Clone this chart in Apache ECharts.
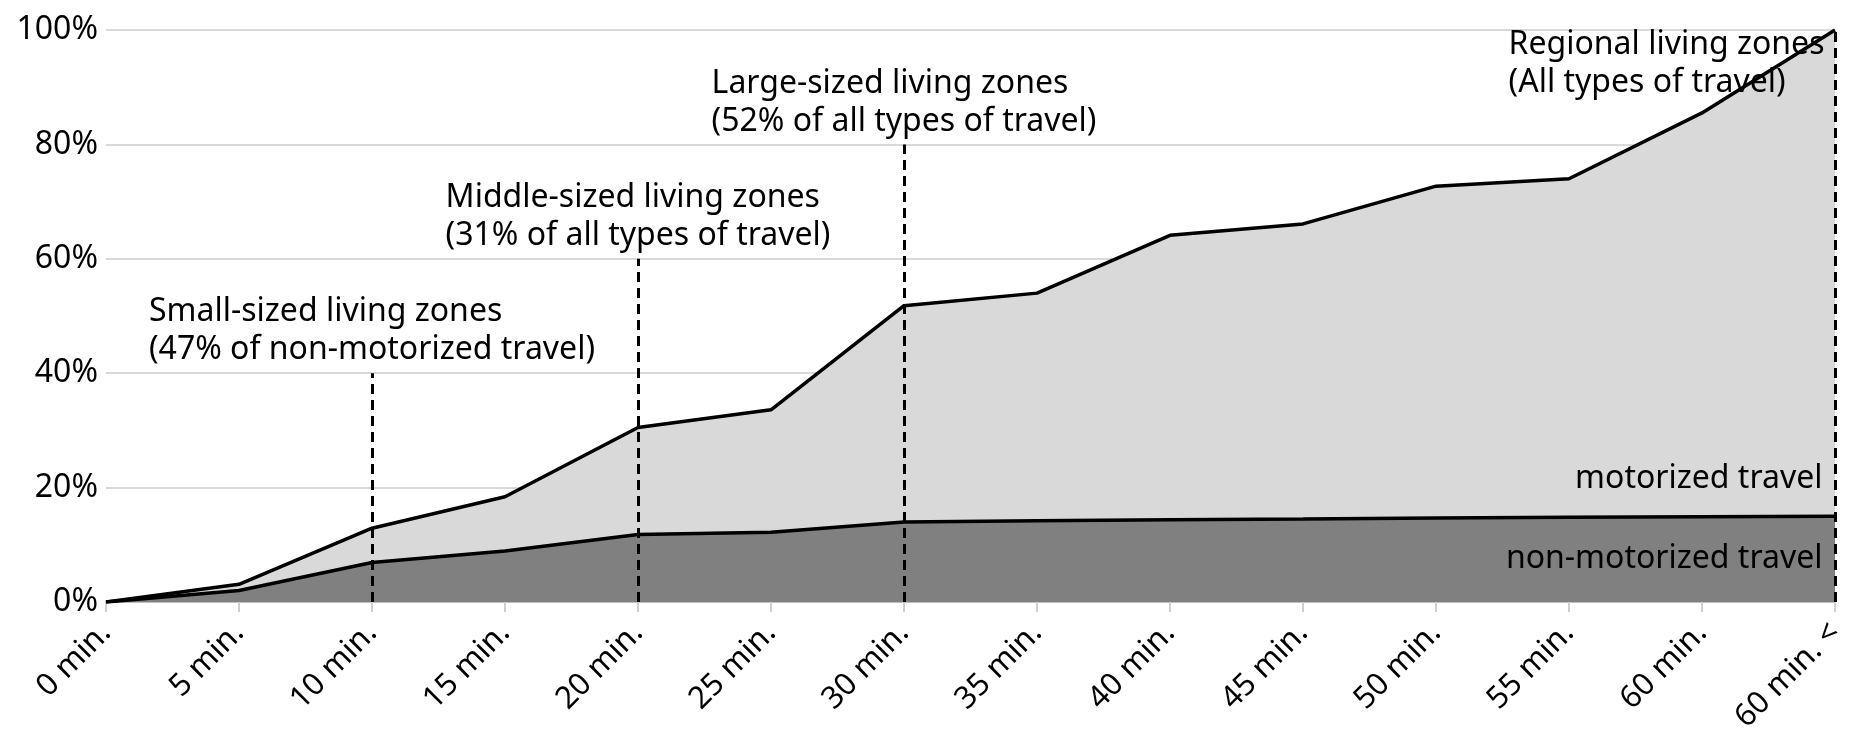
<!DOCTYPE html>
<html>
<head>
<meta charset="utf-8">
<title>Travel time and living zones</title>
<script src="https://cdn.jsdelivr.net/npm/echarts@6/dist/echarts.min.js"></script>
<style>
  html, body { margin: 0; padding: 0; background: #fff; }
  #chart { width: 1863px; height: 747px; }
</style>
</head>
<body>
<div id="chart"></div>
<script>
// categories on the x axis
const minutes = ['0 min.', '5 min.', '10 min.', '15 min.', '20 min.', '25 min.', '30 min.',
  '35 min.', '40 min.', '45 min.', '50 min.', '55 min.', '60 min.', '60 min. <'];

// cumulative share (%) - all types of travel (top line)
const allTravel = [0, 3.1, 12.9, 18.4, 30.5, 33.6, 51.8, 54.0, 64.1, 66.1, 72.7, 74.0, 85.5, 100];

// cumulative share (%) - non-motorized travel (lower line)
const nonMotorized = [0, 2.0, 6.9, 8.9, 11.8, 12.2, 14.0, 14.2, 14.4, 14.5, 14.7, 14.8, 14.9, 15.0];

// y axis ticks
const yTicks = [0, 20, 40, 60, 80, 100];

// living zone thresholds (dashed lines)
const zoneAt = ['10 min.', '20 min.', '30 min.', '60 min. <'];
const zoneTop = [40, 60, 80, 100];
const zoneText = [
  ['Small-sized living zones', '(47% of non-motorized travel)'],
  ['Middle-sized living zones', '(31% of all types of travel)'],
  ['Large-sized living zones', '(52% of all types of travel)'],
  ['Regional living zones', '(All types of travel)']
];

// area labels
const areaNames = ['motorized travel', 'non-motorized travel'];
const areaLabelAt = [21.5, 7.5];

const FONT = '"Noto Sans", "Open Sans", sans-serif';

const chart = echarts.init(document.getElementById('chart'));

const richLeft = { t: { fontSize: 32, lineHeight: 38, color: '#000', fontFamily: FONT, align: 'left' } };
const asRich = lines => lines.map(s => '{t|' + s + '}').join('\n');

// dashed lines with their captions (last caption is drawn separately)
const zoneLines = zoneAt.map((x, i) => [
  { coord: [x, 0] },
  {
    coord: [x, zoneTop[i]],
    label: i < zoneAt.length - 1
      ? { show: true, position: 'end', distance: 4, formatter: asRich(zoneText[i]), rich: richLeft }
      : { show: false }
  }
]);

const last = zoneAt.length - 1;
const notes = [
  {
    coord: [zoneAt[last], zoneTop[last]],
    label: {
      show: true, position: [-10, -4], align: 'right', verticalAlign: 'top',
      formatter: asRich(zoneText[last]), rich: richLeft
    }
  }
].concat(areaNames.map((name, i) => ({
  coord: [minutes[minutes.length - 1], areaLabelAt[i]],
  label: {
    show: true, position: [-12, 0], align: 'right', verticalAlign: 'middle',
    formatter: name, fontSize: 32, color: '#000', fontFamily: FONT
  }
})));

const option = {
  animation: false,
  grid: { left: 106, right: 28, top: 30, bottom: 145, outerBoundsMode: 'none' },
  xAxis: {
    type: 'category',
    data: minutes,
    boundaryGap: false,
    axisLine: { lineStyle: { color: '#bfbfbf', width: 2 } },
    axisTick: { show: true, length: 10, alignWithLabel: true, lineStyle: { color: '#d0d0d0', width: 2 } },
    axisLabel: { rotate: 45, margin: 26, fontSize: 31, color: '#000', fontFamily: FONT, interval: 0 },
    splitLine: { show: false }
  },
  yAxis: {
    type: 'value',
    min: yTicks[0],
    max: yTicks[yTicks.length - 1],
    interval: yTicks[1] - yTicks[0],
    axisLine: { show: false },
    axisTick: { show: false },
    axisLabel: { formatter: '{value}%', fontSize: 32, color: '#000', fontFamily: FONT, margin: 8 },
    splitLine: { lineStyle: { color: '#d9d9d9', width: 2 } }
  },
  series: [
    {
      name: 'all types of travel',
      type: 'line',
      data: allTravel,
      symbol: 'none',
      lineStyle: { color: '#000', width: 3.5 },
      areaStyle: { color: '#d9d9d9', opacity: 1 },
      z: 2
    },
    {
      name: 'non-motorized travel',
      type: 'line',
      data: nonMotorized,
      symbol: 'none',
      lineStyle: { color: '#000', width: 3.5 },
      areaStyle: { color: '#808080', opacity: 1 },
      z: 3,
      markLine: {
        silent: true,
        symbol: ['none', 'none'],
        lineStyle: { color: '#000', width: 3, type: [10, 6] },
        data: zoneLines
      },
      markPoint: {
        silent: true,
        symbol: 'rect',
        symbolSize: 1,
        itemStyle: { color: 'rgba(0,0,0,0)' },
        data: notes
      }
    }
  ]
};

chart.setOption(option);

window.addEventListener('resize', () => {
  chart.resize();
});
</script>
</body>
</html>
